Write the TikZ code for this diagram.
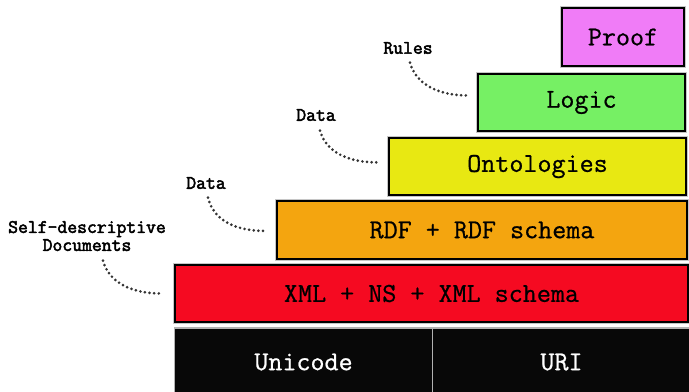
\documentclass[tikz,border=0pt]{standalone}
\usepackage{fontspec}
\newfontfamily\layerfont{Latin Modern Mono}[FakeBold=0.7]
\newfontfamily\notefont{Latin Modern Mono}[FakeBold=2.6]
\usepackage{xcolor}
\usepackage{tikz}
\usetikzlibrary{positioning, calc}

\definecolor{proofc}{HTML}{F07CF7}
\definecolor{logicc}{HTML}{76F064}
\definecolor{ontoc}{HTML}{E8E812}
\definecolor{rdfc}{HTML}{F4A50F}
\definecolor{xmlc}{HTML}{F50A21}
\definecolor{basec}{HTML}{080808}

\begin{document}
\begin{tikzpicture}[x=0.025cm, y=-0.025cm,
  layer/.style={draw=black, line width=1.8pt, inner sep=0pt,
    preaction={draw=gray!45, line width=3.4pt},
    font=\layerfont\fontsize{19.4}{22}\selectfont},
  base/.style={fill=basec, draw=gray!60, line width=1pt, inner sep=0pt,
    text=white, font=\layerfont\fontsize{19.4}{22}\selectfont},
  note/.style={inner sep=1pt, align=center,
    font=\notefont\fontsize{13.6}{12.8}\selectfont},
  link/.style={draw=black!80, line width=2.1pt, line cap=round,
    dash pattern=on 0pt off 3.3pt}]
  \useasboundingbox (0,0) rectangle (689,391);
  % Layers
  \node[layer, fill=proofc, minimum width=3.05cm, minimum height=1.45cm] (proof) at (623,37) {Proof};
  \node[layer, fill=logicc, minimum width=5.175cm, minimum height=1.425cm] (logic) at (581.5,102.5) {Logic};
  \node[layer, fill=ontoc, minimum width=7.425cm, minimum height=1.425cm] (onto) at (537.5,166.5) {Ontologies};
  \node[layer, fill=rdfc, minimum width=10.25cm, minimum height=1.45cm] (rdf) at (482,230) {RDF + RDF schema};
  \node[layer, fill=xmlc, minimum width=12.825cm, minimum height=1.425cm] (xml) at (431.5,293.5) {XML + NS + XML schema};
  % Base
  \node[base, minimum width=6.45cm, minimum height=1.7cm] (unicode) at (303.5,362) {Unicode};
  \node[base, minimum width=6.45cm, minimum height=1.7cm] (uri) at (561.5,362) {URI};
  % Labels
  \node[note] (rules) at (408,48) {Rules};
  \node[note] (dataup) at (316,115) {Data};
  \node[note] (datalow) at (206,183) {Data};
  \node[note] (selfdoc) at (87,236) {Self-descriptive\\Documents};
  % Dotted links
  \draw[link] ([shift={(2,7)}]rules.south) .. controls +(6,22) and +(-30,0) .. ([shift={(-8,-7)}]logic.west);
  \draw[link] ([shift={(4,8)}]dataup.south) .. controls +(6,22) and +(-30,0) .. ([shift={(-9,-4)}]onto.west);
  \draw[link] ([shift={(2,7)}]datalow.south) .. controls +(6,24) and +(-30,0) .. ([shift={(-9,1)}]rdf.west);
  \draw[link] ([shift={(16,8)}]selfdoc.south) .. controls +(6,22) and +(-30,0) .. ([shift={(-12,0)}]xml.west);
\end{tikzpicture}
\end{document}
